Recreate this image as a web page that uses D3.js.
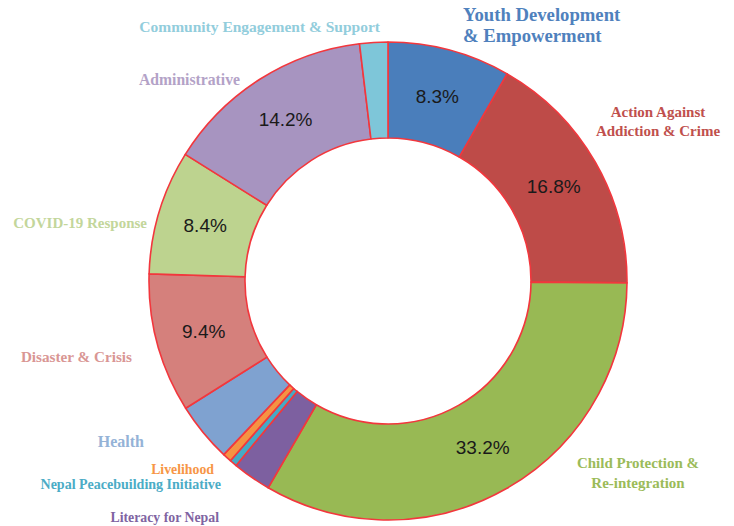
<!DOCTYPE html>
<html lang="en">
<head>
    <meta charset="UTF-8">
    <script src="https://cdnjs.cloudflare.com/ajax/libs/d3/7.8.5/d3.min.js"></script>
    <title>Programme Share Donut</title>
    <style>
        body { margin: 0; background: #fff; }
        .lbl { font-family: "Liberation Serif", "DejaVu Serif", serif; font-weight: bold; }
        .pct { font-family: "Liberation Sans", Arial, sans-serif; font-size: 19px; fill: #1a1a1a; }
    </style>
</head>
<body>
    <svg id="chart" width="734" height="526"></svg>
    <script>
        // data, clockwise from 12 o'clock
        var categories = ["Youth Development & Empowerment", "Action Against Addiction & Crime",
            "Child Protection & Re-integration", "Literacy for Nepal", "Nepal Peacebuilding Initiative",
            "Livelihood", "Health", "Disaster & Crisis", "COVID-19 Response", "Administrative",
            "Community Engagement & Support"];
        var shares = [8.3, 16.8, 33.2, 2.6, 0.5, 0.6, 4.0, 9.4, 8.4, 14.2, 1.9];
        var shownPct = ["8.3%", "16.8%", "33.2%", "", "", "", "", "9.4%", "8.4%", "14.2%", ""];

        var sliceColors = ["#4a7ebb", "#be4b48", "#98b954", "#7d60a0", "#46aac5", "#f59343",
            "#7fa2d0", "#d5807c", "#bdd38f", "#a794c0", "#7ec6d9"];
        var textColors = ["#4f81bd", "#c0504d", "#9bbb59", "#8064a2", "#4bacc6", "#f79646",
            "#95b3d7", "#d99694", "#c3d69b", "#b3a2c7", "#92cddc"];

        // label layout: lines, anchor x, first baseline y, font size, text-anchor
        var labelLayout = {
            "Youth Development & Empowerment": {lines: ["Youth Development", "& Empowerment"], x: 463, y: 21, size: 18.7, anchor: "start", gap: 21},
            "Action Against Addiction & Crime": {lines: ["Action Against", "Addiction & Crime"], x: 658, y: 117, size: 15, anchor: "middle", gap: 19},
            "Child Protection & Re-integration": {lines: ["Child Protection &", "Re-integration"], x: 638, y: 468, size: 15, anchor: "middle", gap: 20},
            "Literacy for Nepal": {lines: ["Literacy for Nepal"], x: 219, y: 522, size: 13.8, anchor: "end"},
            "Nepal Peacebuilding Initiative": {lines: ["Nepal Peacebuilding Initiative"], x: 221, y: 489, size: 14, anchor: "end"},
            "Livelihood": {lines: ["Livelihood"], x: 214, y: 474, size: 13.8, anchor: "end"},
            "Health": {lines: ["Health"], x: 144, y: 447, size: 16, anchor: "end"},
            "Disaster & Crisis": {lines: ["Disaster & Crisis"], x: 132, y: 362, size: 15.2, anchor: "end"},
            "COVID-19 Response": {lines: ["COVID-19 Response"], x: 147, y: 228, size: 15, anchor: "end"},
            "Administrative": {lines: ["Administrative"], x: 240, y: 85, size: 15.7, anchor: "end"},
            "Community Engagement & Support": {lines: ["Community Engagement & Support"], x: 380, y: 32, size: 15.5, anchor: "end"}
        };

        var cx = 388, cy = 281;
        var outerR = 239, innerR = 143;

        var rows = categories.map(function (c, i) {
            return {name: c, value: shares[i], pct: shownPct[i], color: sliceColors[i], tcolor: textColors[i]};
        });

        var svg = d3.select("#chart");
        var g = svg.append("g").attr("transform", "translate(" + cx + "," + cy + ")");

        var pie = d3.pie().sort(null).value(function (d) { return d.value; });
        var arc = d3.arc().innerRadius(innerR).outerRadius(outerR);

        var arcs = pie(rows);

        g.selectAll("path")
            .data(arcs)
            .join("path")
            .attr("d", arc)
            .attr("fill", function (d) { return d.data.color; })
            .attr("stroke", "#f2373d")
            .attr("stroke-width", 1.6)
            .attr("stroke-linejoin", "round");

        //percent labels at slice centroids
        g.selectAll("text.pct")
            .data(arcs.filter(function (d) { return d.data.pct !== ""; }))
            .join("text")
            .attr("class", "pct")
            .attr("text-anchor", "middle")
            .attr("dy", "0.35em")
            .attr("transform", function (d) { return "translate(" + arc.centroid(d) + ")"; })
            .text(function (d) { return d.data.pct; });

        //category labels
        rows.forEach(function (r) {
            var L = labelLayout[r.name];
            var t = svg.append("text")
                .attr("class", "lbl")
                .attr("text-anchor", L.anchor)
                .attr("font-size", L.size + "px")
                .attr("fill", r.tcolor);
            L.lines.forEach(function (line, i) {
                t.append("tspan")
                    .attr("x", L.x)
                    .attr("y", L.y + i * (L.gap || 0))
                    .text(line);
            });
        });
    </script>
</body>
</html>
